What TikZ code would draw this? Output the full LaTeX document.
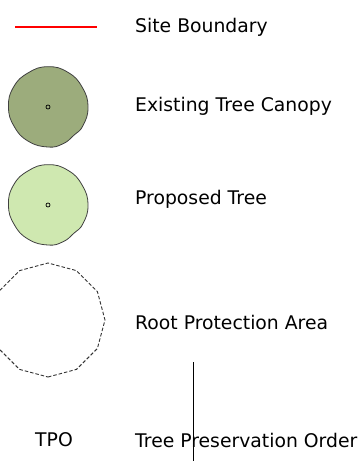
\documentclass[tikz,border=0pt]{standalone}
\usepackage{fontspec}
\setmainfont{DejaVu Sans}
\begin{document}
\begin{tikzpicture}[x=1pt,y=-1pt,
  lbl/.style={anchor=west,inner sep=0pt,font=\fontsize{18.8}{22}\selectfont},
  canopy/.style={draw=black!75,line width=0.8pt},
  stem/.style={draw=black,line width=0.7pt},
  rpa/.style={draw=black!80,line width=0.9pt,dash pattern=on 3.5pt off 2pt}]
\useasboundingbox (0,0) rectangle (361,461);
\def\canopyshape{plot[smooth cycle,tension=0.8] coordinates {
 (0:40) (-30:39.5) (-60:40) (-90:40.3) (-120:39.5) (-150:39.8) (-180:39.5) (-210:39) (-240:39.5) (-270:40) (-292:39.7) (-312:38.3) (-332:39.6)}}
% site boundary
\coordinate (sb1) at (15,27);
\coordinate (sb2) at (97,27);
\draw[red,line width=2.3pt] (sb1) -- (sb2);
\node[lbl] (tsb) at (135,27) {Site Boundary};
% existing tree
\begin{scope}[shift={(48,107)}]
\filldraw[canopy,fill={rgb,255:red,156;green,172;blue,124}] \canopyshape;
\draw[stem] (0,0) circle (2);
\end{scope}
\node[lbl] (tex) at (135,106) {Existing Tree Canopy};
% proposed tree
\begin{scope}[shift={(48,205)}]
\filldraw[canopy,fill={rgb,255:red,207;green,232;blue,176}] \canopyshape;
\draw[stem] (0,0) circle (2);
\end{scope}
\node[lbl] (tpr) at (135,199) {Proposed Tree};
% root protection area
\draw[rpa] (48,320) +(90:57) -- +(60:57) -- +(30:57) -- +(0:57) -- +(-30:57) -- +(-60:57) -- +(-90:57) -- +(-120:57) -- +(-150:57) -- +(180:57) -- +(150:57) -- +(120:57) -- cycle;
\node[lbl] (trpa) at (135,322) {Root Protection Area};
% vertical line
\coordinate (v1) at (193,362);
\coordinate (v2) at (193,461);
\draw[line width=0.6pt] (v1) -- (v2);
% TPO
\node[lbl,anchor=center] (ttpo) at (54,440) {TPO};
\node[lbl] (ttpo2) at (135,440) {Tree Preservation Order};
\end{tikzpicture}
\end{document}
